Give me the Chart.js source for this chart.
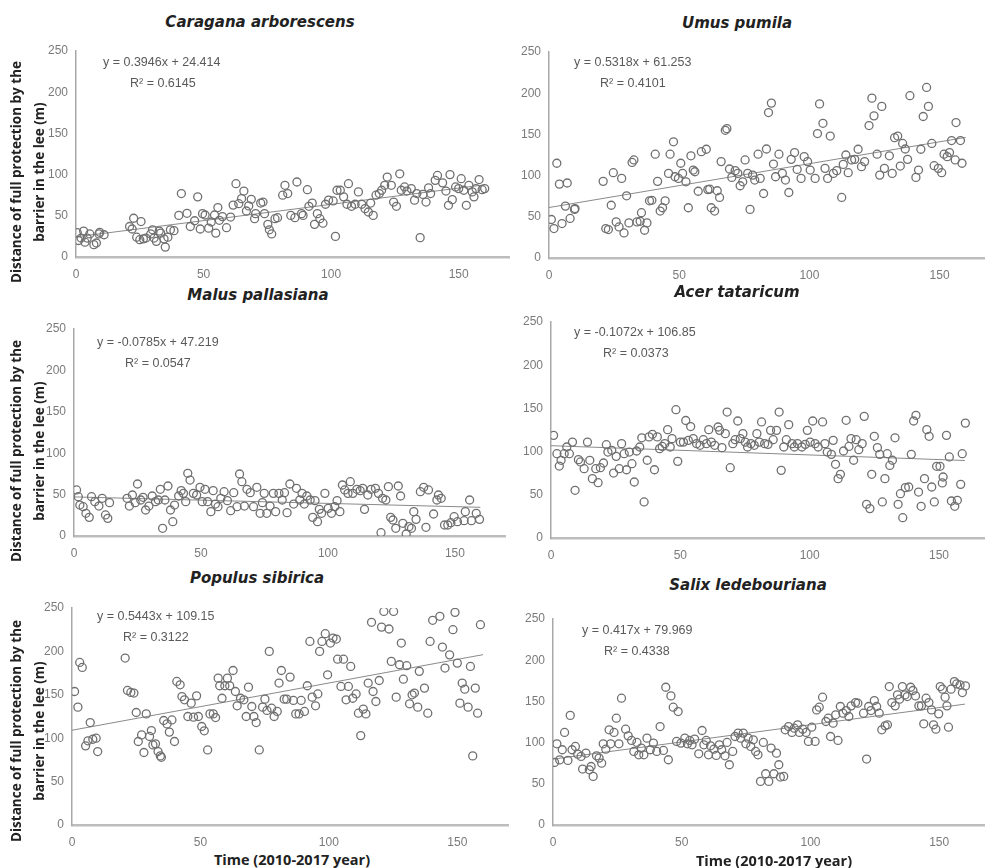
<!DOCTYPE html>
<html>
<head>
<meta charset="utf-8">
<script src="https://cdn.jsdelivr.net/npm/chart.js@4.4.1/dist/chart.umd.min.js"></script>
<style>
    html, body { margin: 0; padding: 0; background: #fff; width: 985px; height: 868px; overflow: hidden; }
    .panel { position: absolute; }
    .title { position: absolute; font: oblique bold 15px "DejaVu Sans"; color: #222; transform: translate(-50%, -50%); white-space: nowrap; }
    .eq { position: absolute; font: 12.5px "Liberation Sans"; color: #5a5a5a; transform: translateY(-50%); white-space: nowrap; }
    .ytitle { position: absolute; font: bold 13.5px "Open Sans"; color: #222; text-align: center; line-height: 23px;
              transform: translate(-50%, -50%) rotate(-90deg); white-space: nowrap; }
    .xtitle { position: absolute; font: bold 14.5px "Open Sans"; color: #222; transform: translate(-50%, -50%); white-space: nowrap; }
</style>
</head>
<body>
<script>
// ---- data ----
const titles = ['Caragana arborescens', 'Umus pumila', 'Malus pallasiana', 'Acer tataricum', 'Populus sibirica', 'Salix ledebouriana'];
const slopes = [0.3946, 0.5318, -0.0785, -0.1072, 0.5443, 0.417];
const intercepts = [24.414, 61.253, 47.219, 106.85, 109.15, 79.969];
const equations = ['y = 0.3946x + 24.414', 'y = 0.5318x + 61.253', 'y = -0.0785x + 47.219', 'y = -0.1072x + 106.85', 'y = 0.5443x + 109.15', 'y = 0.417x + 79.969'];
const rSquared = ['R² = 0.6145', 'R² = 0.4101', 'R² = 0.0547', 'R² = 0.0373', 'R² = 0.3122', 'R² = 0.4338'];
const yTicks = [0, 50, 100, 150, 200, 250];
const xTicks = [0, 50, 100, 150];
const fitRange = [0, 160];
const yTitle = ['Distance of full protection by the', 'barrier in the lee (m)'];
const xTitle = 'Time (2010-2017 year)';

const caragana = [[0.5,29.5],[1,20],[2,23],[3,31.5],[3.5,18],[4.4,23],[5.4,28],[7,15],[8,17],[9,28],[9.3,30],[11,27],
[21,37],[22,34],[22.6,47],[23.8,24],[25.5,43],[25,21],[26.4,22],[27.4,23],[29.3,28],[30,33],[30.6,23],[31.5,19],[32.6,31.5],[33.2,29],[34.5,22],[35,12],[36,24],[37,33],[38.4,32],[40.3,50.5],[41.3,77],[43.5,53],[44.8,37],[46.5,44],[47.7,73],[48.7,34],[49.6,52.6],[50.6,51],[52,35],[53,42.5],[54.3,51],[54.8,29],[55.6,60],[56.2,44.5],[57.4,49],[59,35.6],[60.6,48.5],[61.6,63],[62.7,89],[63.8,64.7],[64.9,70.8],[65.8,80],[66.8,55.8],[67.7,62],[68.7,70],[70,46.5],[70.4,52.6],[72.4,65.5],[73.3,66.7],[73.9,52.6],[75.2,39.6],[75.8,33],[76.7,28],[78,46.5],[79,47.7],[81,75],[81.9,87],[83,77],[84.2,50.5],[85.8,47.7],[86.6,91],[88.4,52.6],[89,50.5],[90.7,81.7],[91.3,61.5],[92.6,65.5],[93.5,39.6],[94.6,52.6],[95.6,46.5],[96.8,41],[97.8,64],[99,69],[100.8,68],[101.7,25],[102.3,81],[103.6,81],[104.9,73],[106.2,64],[106.8,89],[108,61.5],[109.4,64],[110.7,79],[112,64],[113.3,58.7],[114.6,54.6],[115.5,65.5],[116.5,50.5],[117.6,75],[118.9,77],[119.8,81],[121,87],[122,97],[123.6,87],[124.5,66.7],[125.6,61.5],[126.9,101],[127.5,81],[128.8,85],[129.7,80],[131.4,83],[132.7,69],[133.6,77],[134.9,23.5],[136,76],[137.2,66.7],[138.2,84],[139,77],[140.8,93],[141.7,99],[143.7,90],[145,80],[146,62.7],[146.6,100],[147.5,69.6],[148.8,85],[150,83],[151,95],[152,81],[153,62.7],[154,87],[155.3,79],[156,73],[156.8,83],[158,94],[159.2,81.7],[160.2,83]];

const umus = [[0.9,46.7],[1.9,35.7],[3,115],[4,89.7],[5,41.8],[6.3,63],[7,91],[8.1,48],[9.8,59],[10,60],
[20.8,93],[21.8,35.7],[22.8,34.5],[23.9,64],[24.7,103.5],[25.8,43.8],[26.9,37.7],[27.9,96.6],[28.8,30.4],[29.8,75.5],[30.7,42.6],[31.9,116],[32.6,119],[33.8,43.8],[35,44.6],[35.5,55],[36.7,33.7],[37.6,42.6],[38.6,69.4],[39.5,70],[40.8,126],[41.7,93],[42.7,57],[43.6,61],[44.6,69.4],[45.9,102.7],[46.5,126],[47.8,141],[48.4,98.6],[49.7,96.6],[50.6,115],[51.3,102.7],[52.6,92.5],[53.5,61],[54.5,124],[55.4,106.7],[56,104.7],[57.3,81],[58.5,129],[60.4,132],[61,83],[61.7,83.6],[62.3,61],[63.6,57],[64.6,81.6],[65.5,73.5],[66.1,117],[67.7,155],[68.3,157],[69.3,108],[70.2,97.8],[71.5,106],[72.5,102.7],[73.4,87.7],[74.4,92.5],[75.3,119],[76.3,102.7],[77.2,59],[78.2,100.6],[79,94.6],[80.3,126],[81.1,96.6],[82.4,78.3],[83.5,132.3],[84.3,176.5],[85.4,188],[86.2,114],[87,98.6],[88.3,126],[89.6,102.7],[90.8,94.6],[92.1,79.5],[93,119.7],[94.3,128],[95.3,107.5],[96.8,96.6],[98,123],[99.3,117],[100.3,106.7],[102.2,96.6],[103.1,151],[103.9,187],[105.2,163.5],[106,108.8],[107,96.6],[108,148],[109.2,102.7],[110.5,106],[112.4,73.5],[113,113.6],[114,125],[114.9,103.5],[116.2,119],[117.4,119.7],[118.7,132],[120,110.8],[121.2,117],[122.9,160.7],[124,194],[124.8,172.5],[126,126],[127,100.6],[127.8,184],[128.8,108.8],[130.7,124],[131.8,102.7],[132.7,146],[133.9,148],[134.9,111.6],[135.8,139],[136.8,132.3],[137.7,119.7],[138.6,197],[140.9,97.8],[141.9,106.7],[142.8,132],[143.7,171.7],[145,207],[145.7,184],[147,139],[147.9,112],[149.5,108.8],[150.8,103.5],[151.7,126],[152.9,123],[153.8,128],[154.6,142.5],[156.3,164.4],[156,119],[158,142.5],[158.6,115]];

const malus = [[1,55.6],[1.7,47.5],[2.3,37.4],[3.6,35.4],[4.7,27.4],[6,22.5],[6.9,47.5],[8.2,41.5],[9.8,36.2],[11.1,45.5],[12.4,25.4],[13.3,21.3],[14,40.3],
[20.9,45.5],[21.8,36.2],[23,49.5],[24.1,40.3],[25,62.8],[26.3,43.5],[27.2,46.7],[28.2,31.4],[29.5,36.2],[30.8,48.3],[32.1,41.5],[33.2,43.5],[34,56.4],[34.9,9.3],[35.8,43.5],[37,60.4],[38,31.4],[38.9,17.3],[39.6,37.4],[41.2,48.3],[42.2,54.8],[43.1,51.5],[44,41.5],[44.8,75.7],[45.7,67.6],[47,51.5],[48.3,49.5],[49.6,58.8],[50.5,41.5],[51.6,56.4],[52.6,41.5],[53.9,29.4],[54.8,54.8],[55.7,38.6],[56.7,35.4],[57.8,45.5],[59.1,53.5],[60.4,42.7],[61.7,30.6],[62.9,52.3],[64.2,35.4],[65.2,74.9],[66.1,65.6],[67.1,36.2],[68.1,56.4],[69.4,52.3],[70.7,35.4],[72,58.8],[73.3,27.4],[74.2,40.3],[74.9,51.5],[75.9,27.4],[77.2,36.2],[78.5,51.5],[79.4,29.4],[80.7,51.5],[82,43.5],[82.9,52.3],[83.9,28.2],[85,62.8],[86.5,38.6],[87.6,57.6],[88.9,43.5],[89.8,51.5],[90.7,38.6],[91.7,48.3],[93,43.5],[94,22.5],[94.9,42.7],[95.9,17.3],[96.6,32.2],[97.5,27.4],[98.8,51.5],[100.1,33.4],[101.4,27.4],[102.7,35.4],[103.6,42.7],[104.7,29.4],[105.7,61.6],[106.6,55.6],[107.9,51.5],[108.8,65.6],[109.8,51.5],[111.4,56.4],[112.7,54.8],[113.7,57.6],[114.4,32.2],[115.7,49.5],[117,56.4],[118.7,57.6],[119.9,51.5],[120.9,4],[121.5,45.5],[122.8,43.5],[123.8,59.6],[124.7,22.5],[125.6,19.3],[126.7,9.3],[127.7,60.4],[128.6,48.3],[129.5,15.3],[130.8,2.4],[131.9,11.3],[132.9,9.3],[133.8,29.4],[134.7,20.1],[136.4,53.5],[137.7,58.8],[138.6,10.5],[139.6,55.6],[141.6,26.6],[142.9,43.5],[143.5,49.5],[144.6,45.5],[145.9,13.3],[147.2,13.3],[148.4,16.1],[149.7,23.3],[151,17.3],[153.6,18.5],[154.1,29.4],[155.8,43.5],[156.5,18.5],[158.4,27.4],[159.7,20.1]];

const acer = [[1,118.8],[2.3,97.6],[3.2,83.3],[3.9,89.9],[5.1,97.6],[6.1,105.3],[7.1,97.6],[8.3,111],[9.3,55.2],[10.6,90.7],[11.4,88],[12.8,80.2],[14.1,111],[15,89.9],[16,68.7],[17.3,80.2],[18.2,64],[19.1,81.4],[20.3,86.8],[21.4,108],[22,99.5],[23.5,101.5],[24.2,75.2],[25.2,94.5],[26.4,80.2],[27.3,109.2],[28.3,97.6],[29.2,79],[30.3,99.5],[31.3,86],[32.2,64.8],[33.1,100.7],[34.3,105.3],[35.1,116],[36,41.7],[37.2,90],[37.9,117],[39.2,120],[40,79],[41.1,117],[42,103.4],[43,106],[44,109.2],[45.1,125.4],[46.1,105.3],[46.8,115],[48.3,148.5],[49,88.7],[50,111],[51.2,111],[52.1,136],[53.1,113],[54,129],[55,115],[56.3,109.2],[57.6,107.3],[58.9,113.8],[60.1,109.2],[61,125.4],[62,111],[63.3,107.3],[64.6,128.5],[65.2,124.6],[66.1,104.6],[67.4,120.8],[68.1,145.8],[69.3,81.4],[70.3,109.2],[71.2,113.8],[72.2,135.4],[73.2,115],[74.2,120.8],[75.1,111],[76,105.3],[77.3,109.2],[78.6,107.3],[79.6,120.8],[80.5,111],[81.4,134.3],[82.6,109.2],[83.9,108.4],[84.9,124.6],[85.9,113.8],[87.2,124.6],[88.2,145.8],[89,78.3],[90,105.3],[91,113.8],[91.9,131.2],[93.2,109.2],[94.1,105.3],[95.3,109.2],[97,105.3],[98.3,108.4],[99.1,124.6],[100.2,111],[101.2,135.4],[102.1,109.2],[103.3,105.3],[105,134.3],[105.9,109.2],[106.8,99.5],[108.4,96.8],[109.1,113],[110,85.3],[111,68.7],[111.9,73.7],[113.1,100.7],[114.1,136.2],[115.2,106],[116,115],[117,90],[118,113.8],[119,102.2],[120.3,109.2],[121.1,140.8],[122,39],[123.3,34],[124,73.7],[125,117.7],[126.2,104.6],[127.1,96.8],[128.1,41.7],[129.1,68.7],[130,97.6],[131,84],[132,90],[133,116],[134.2,39],[135.1,51.3],[136,23.5],[137,58.3],[138.3,59],[139.3,96.8],[140.2,135.4],[141.1,142],[142.1,53.2],[143.1,36.7],[144.4,68.7],[145.3,125.4],[146.2,117.7],[147.2,59],[148.2,41.7],[149.1,83],[150.4,83],[151.6,70.6],[151.3,63.7],[152.9,118.8],[154,93.8],[154.8,42.8],[156.1,36.7],[157.1,43.6],[158.4,62.1],[159,97.6],[160.2,133]];

const populus = [[1,153.8],[2.3,135.8],[3,187.3],[4,181.5],[5.3,91.2],[6.2,97],[7.1,118],[8.1,98.8],[9.4,100],[10,84.6],
[20.7,192.3],[21.6,155],[22.9,152.7],[24.1,152],[25,129.6],[25.8,96.2],[27.1,103.8],[28,83.5],[28.9,128],[30.2,102],[30.9,108.8],[31.5,92.3],[32.5,93.5],[33.5,84.6],[34.4,79.6],[34.8,78],[35.7,120.4],[37,116.5],[37.9,107],[38.9,121],[39.9,96.2],[40.8,165.4],[42.1,161.5],[42.8,148],[43.8,144.2],[45.1,125],[46.4,140.4],[47.3,124.2],[48.5,148.8],[49.2,125],[50.5,113.5],[51.5,108.5],[52.8,86.5],[53.7,128],[55,128],[55.9,123.8],[56.9,169.2],[57.5,160.4],[58.4,146],[59.5,160.4],[60.5,169.2],[61.4,160.4],[62.7,178],[63.6,153.8],[64.3,137.3],[65.6,146],[66.9,144.2],[67.8,125],[68.7,158.8],[70,136.5],[70.8,125],[71.7,118],[72.9,86.5],[74.2,135.8],[75.1,145],[75.9,132],[76.8,200],[77.7,134.6],[78.7,125],[79.9,130.8],[80.6,163.5],[81.5,178],[82.6,145],[83.6,145],[84.9,170.4],[86.2,143.5],[87.1,128],[88.4,128],[89.2,143.5],[90.5,130.8],[91.6,160.4],[92.6,211.5],[93.5,147.3],[94.8,137.3],[95.7,151],[96.4,200],[97.3,211.5],[98.6,220.4],[99.5,173],[100.6,209.6],[101.6,215.4],[102.9,214.2],[103.4,191],[104.7,159.6],[105.7,191],[106.7,144.2],[107.6,159.6],[108.5,182.7],[109.3,146],[110.6,151],[111.5,128.8],[112.4,103],[113.4,133.5],[114.4,128],[115.3,163.5],[116.6,233.5],[117.2,153.8],[118.3,142.3],[119.6,166.5],[120.5,228],[121.4,246],[123.4,225.8],[124.3,188.5],[125.2,246],[126.2,147.3],[127.5,184.6],[128.2,209.6],[129,168],[130.3,183.5],[131.4,139.6],[132.4,150],[133.3,152],[134.6,135.8],[135.2,177],[137.2,157.7],[138.5,128.8],[139.4,211.5],[140.4,235.8],[143.2,240.4],[144.2,205],[145.2,180.8],[147,196],[148.3,225],[149.1,245],[150,186.5],[151,140.4],[151.9,163.5],[152.9,156.5],[154.2,135.8],[155.1,182.7],[156,79.6],[157,157.7],[157.9,128.8],[159,230.8]];

const salix = [[0.6,76],[1.5,98.5],[2.6,79],[3.6,91.3],[4.5,112.3],[5.8,78.4],[6.7,133],[7.4,91.3],[8.7,95.3],[9.6,86],[10.9,83.2],[11.5,67.9],[12.8,87.2],[14.1,67],[14.8,71],[15.6,59],[16.9,84],[17.9,81.2],[18.9,75],[19.5,98.5],[20.5,92],[21.8,115.5],[22.4,98.5],[23.7,112.3],[24.6,129.6],[25.6,98.5],[26.6,153.9],[28.2,116.3],[29.2,108.2],[30.5,102.6],[31.4,89.3],[32.6,100.2],[33.3,85.2],[34.3,93.3],[35.3,85.2],[36.5,105.4],[37.8,91.3],[39,99.4],[40.3,89.3],[41.6,119.5],[42.9,90.5],[43.8,167.2],[44.8,79.2],[45.8,156.7],[46.7,143],[48.6,137.7],[48,101.4],[49.7,99.4],[51.2,105.4],[52.2,98.5],[53.1,102.6],[54,97.3],[55,104.2],[56.6,86.4],[57.9,114.7],[58.6,97.3],[59.5,102.6],[60.4,85.2],[61.2,96.1],[62.5,92],[63.4,84.4],[64.6,97.3],[65.5,91.3],[66.8,84],[67.6,100.2],[68.5,73.1],[69.8,89.3],[70.7,107.4],[71.9,111.5],[72.9,105.4],[73.9,111.5],[74.9,98.5],[75.8,105.4],[76.8,95.3],[77.8,103.4],[78.7,89.3],[79.6,85.2],[80.6,52.9],[81.7,100.2],[82.6,62.2],[83.8,52.9],[84.7,93.3],[85.8,62.2],[86.8,87.2],[87.7,73.1],[88.3,58.2],[89.6,59],[90.2,115.5],[91.5,119.5],[92.8,112.3],[93.7,117.5],[95,121.6],[95.7,112.3],[97,116.3],[98.3,112.3],[99.2,101.4],[100.5,118.7],[101.8,101.4],[102.4,139.7],[103.4,143],[104.7,155.1],[106,125.6],[106.9,129.6],[107.8,107.4],[108.8,123.6],[109.8,133.7],[110.7,102.6],[111.6,143.8],[112.6,135.7],[113.9,138.9],[114.9,131.7],[115.8,144.6],[117.5,148.6],[118.4,147.8],[120.6,135.7],[121.8,80],[122.6,143.8],[123.5,138.9],[124.8,151],[125.7,143.8],[126.7,135.7],[127.7,115.5],[129,120.4],[129.9,121.6],[130.6,168],[131.6,148.6],[132.9,144.6],[133.8,157.9],[134.6,152.7],[135.7,168],[136.7,157.9],[137.6,155.9],[138.9,167.2],[139.8,163.2],[140.8,156.7],[142.1,144.6],[143.1,144.6],[144,122.8],[144.9,153.9],[146,148.6],[147,139.7],[147.8,121.6],[148.7,116.3],[149.8,134.9],[150.4,168],[151.3,164.8],[152.3,155.1],[153,144.6],[153.6,118.7],[154.6,164.8],[155.9,174],[156.8,171.2],[158.1,170],[159,160.7],[160.2,168.8]];

const series = [caragana, umus, malus, acer, populus, salix];

// ---- layout (pixel frame of each plot area) ----
const frames = [
    { x0: 76,  unit: 2.58,  top: 51,  bottom: 257, title: [260, 22],  eq: [103, 62],  r2: [130, 83] },
    { x0: 549, unit: 2.633, top: 52,  bottom: 258, title: [737, 23],  eq: [574, 62],  r2: [600, 83] },
    { x0: 74,  unit: 2.573, top: 329, bottom: 536, title: [258, 295], eq: [97, 342],  r2: [125, 363] },
    { x0: 551, unit: 2.62,  top: 322, bottom: 538, title: [737, 292], eq: [574, 332], r2: [603, 353] },
    { x0: 72,  unit: 2.6,   top: 608, bottom: 825, title: [257, 578], eq: [97, 616],  r2: [123, 637] },
    { x0: 553, unit: 2.607, top: 619, bottom: 825, title: [748, 585], eq: [582, 630], r2: [604, 651] },
];
const yTitleCenters = [172, 451, 731];
const xTitleCenters = [[292, 859], [774, 860]];
const X_MAX = 170, Y_W = 40, X_H = 22, PAD_TOP = 10;

function addText(cls, text, x, y) {
    const el = document.createElement('div');
    el.className = cls;
    el.innerHTML = text;
    el.style.left = x + 'px';
    el.style.top = y + 'px';
    document.body.appendChild(el);
    return el;
}

const tickFont = { family: 'Liberation Sans', size: 12 };

series.forEach((points, i) => {
    const f = frames[i];
    const wrap = document.createElement('div');
    wrap.className = 'panel';
    const w = Math.round(Y_W + X_MAX * f.unit);
    const h = Math.round(PAD_TOP + (f.bottom - f.top) + X_H);
    wrap.style.left = (f.x0 - Y_W) + 'px';
    wrap.style.top = (f.top - PAD_TOP) + 'px';
    const canvas = document.createElement('canvas');
    canvas.width = w;
    canvas.height = h;
    wrap.appendChild(canvas);
    document.body.appendChild(wrap);

    const fit = fitRange.map((x) => ({ x: x, y: slopes[i] * x + intercepts[i] }));

    new Chart(canvas, {
        type: 'scatter',
        data: {
            datasets: [{
                data: points.map((p) => ({ x: p[0], y: p[1] })),
                pointStyle: 'circle',
                pointRadius: 4,
                backgroundColor: 'rgba(255,255,255,0)',
                borderColor: '#707070',
                borderWidth: 1.3,
            }, {
                type: 'line',
                data: fit,
                borderColor: '#8a8a8a',
                borderWidth: 1,
                pointRadius: 0,
                fill: false,
            }],
        },
        options: {
            responsive: false,
            animation: false,
            devicePixelRatio: 1,
            layout: { padding: { top: PAD_TOP, left: 0, right: 0, bottom: 0 } },
            plugins: { legend: { display: false }, tooltip: { enabled: false } },
            scales: {
                x: {
                    type: 'linear',
                    min: 0,
                    max: X_MAX,
                    grid: { display: false },
                    border: { display: true, color: '#bdbdbd', width: 2.5 },
                    afterBuildTicks: (s) => { s.ticks = xTicks.map((v) => ({ value: v })); },
                    ticks: { font: tickFont, color: '#7a7a7a', padding: 2, maxRotation: 0 },
                    afterFit: (s) => { s.height = X_H; s.paddingLeft = 0; s.paddingRight = 0; },
                },
                y: {
                    min: 0,
                    max: 250,
                    grid: { display: false },
                    border: { display: true, color: '#a8a8a8', width: 1.5 },
                    afterBuildTicks: (s) => { s.ticks = yTicks.map((v) => ({ value: v })); },
                    ticks: { font: tickFont, color: '#7a7a7a', padding: 0 },
                    afterFit: (s) => { s.width = Y_W; s.paddingTop = 0; s.paddingBottom = 0; },
                },
            },
        },
    });

    addText('title', titles[i], f.title[0], f.title[1]);
    addText('eq', equations[i], f.eq[0], f.eq[1]);
    addText('eq', rSquared[i], f.r2[0], f.r2[1]);
});

yTitleCenters.forEach((cy) => {
    addText('ytitle', yTitle.join('<br>'), 27.5, cy);
});
xTitleCenters.forEach((c) => {
    addText('xtitle', xTitle, c[0], c[1]);
});
</script>
</body>
</html>
